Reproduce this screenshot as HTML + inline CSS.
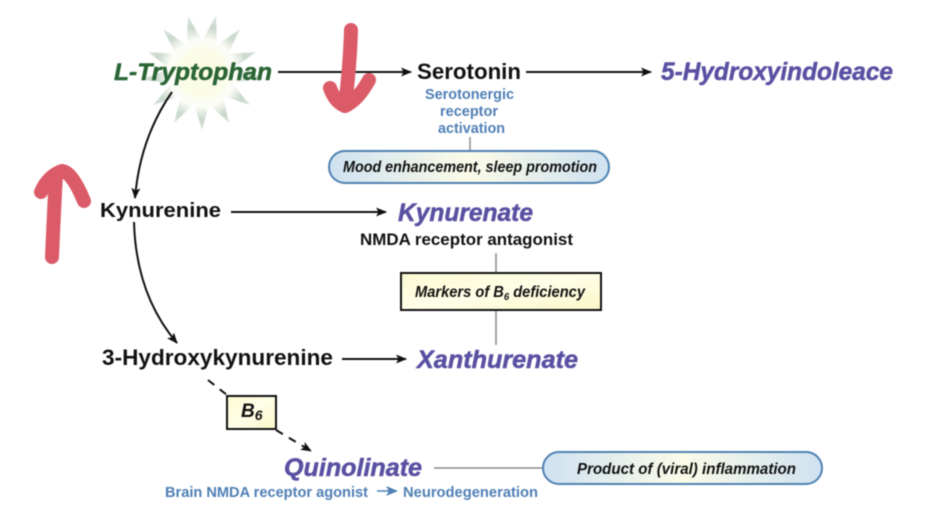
<!DOCTYPE html>
<html><head><meta charset="utf-8"><style>
html,body{margin:0;padding:0;background:#fff}
svg{display:block;filter:blur(.5px)}
text{font-family:"Liberation Sans",sans-serif}
.b{font-weight:bold}
.i{font-style:italic;font-weight:bold}
.p{fill:#5a50a2;stroke:#5a50a2;stroke-width:.5px;font-weight:bold;font-style:italic;font-size:25px}
.t{fill:#4f7fb5;font-weight:bold;font-size:15px}
.n{fill:#111;font-style:italic;font-weight:bold;font-size:15.5px}
</style></head><body>
<svg width="936" height="518" viewBox="0 0 936 518" xmlns="http://www.w3.org/2000/svg">
<defs>
<marker id="a" markerWidth="12" markerHeight="10" refX="10" refY="5" orient="auto" markerUnits="userSpaceOnUse"><path d="M0,0.5L11,5L0,9.5L2.5,5Z" fill="#111"/></marker>
<radialGradient id="s" gradientUnits="userSpaceOnUse" cx="202" cy="73" r="62"><stop offset=".55" stop-color="#fbfcf6"/><stop offset=".75" stop-color="#c9d8cc"/><stop offset="1" stop-color="#dfe8e1"/></radialGradient>
<radialGradient id="c"><stop offset="0" stop-color="#fcfde0"/><stop offset=".7" stop-color="#fbfce8"/><stop offset="1" stop-color="#fdfef8" stop-opacity="0"/></radialGradient>
<linearGradient id="pill"><stop offset="0" stop-color="#cfe2f1"/><stop offset=".5" stop-color="#fbfbe8"/><stop offset="1" stop-color="#cfe2f1"/></linearGradient>
<linearGradient id="box" x1="0" y1="0" x2="1" y2="1"><stop offset="0" stop-color="#fdfbd2"/><stop offset=".5" stop-color="#fffee8"/><stop offset="1" stop-color="#fbf7c8"/></linearGradient>
</defs>
<rect width="936" height="518" fill="#fff"/>

<polygon fill="url(#s)" points="188,16 202,41 216,16 217,45 240,29 228,54 256,52 234,68 264,78 232,83 250,105 223,96 229,123 209,104 202,130 194,104 174,123 181,96 153,105 172,83 140,80 170,69 148,52 176,54 163,29 187,45"/>
<circle cx="202" cy="73" r="34" fill="url(#c)"/>

<g fill="none" stroke="#111" stroke-width="2">
<path d="M278,72H411" marker-end="url(#a)"/>
<path d="M526,72H651" marker-end="url(#a)"/>
<path d="M231,212H386" marker-end="url(#a)"/>
<path d="M342,359H406" marker-end="url(#a)"/>
<path d="M172,92Q140,138 135,198" marker-end="url(#a)"/>
<path d="M134,222Q136,295 177,343" marker-end="url(#a)"/>
<path d="M208,380L227,395" stroke-dasharray="8 7"/>
<path d="M276,430L311,451" stroke-dasharray="8 7" marker-end="url(#a)"/>
</g>
<g fill="none" stroke="#8a8a8a" stroke-width="1.5">
<path d="M470,137V151"/>
<path d="M496,253V273"/>
<path d="M496,310V345"/>
<path d="M434,468H543"/>
</g>

<rect x="329" y="151" width="280" height="32" rx="16" fill="url(#pill)" stroke="#4f81b0" stroke-width="2"/>
<rect x="543" y="452" width="279" height="32" rx="16" fill="url(#pill)" stroke="#4f81b0" stroke-width="2"/>
<rect x="401" y="273" width="200" height="37" fill="url(#box)" stroke="#111" stroke-width="2"/>
<rect x="227" y="396" width="49" height="33" fill="url(#box)" stroke="#111" stroke-width="2"/>

<text x="114" y="80" class="i" font-size="24" fill="#2a6535" stroke="#2a6535" stroke-width=".5" textLength="158" lengthAdjust="spacingAndGlyphs">L-Tryptophan</text>
<text x="417" y="79" class="b" font-size="22" fill="#111" textLength="104" lengthAdjust="spacingAndGlyphs">Serotonin</text>
<text x="661" y="80" class="p" textLength="232" lengthAdjust="spacingAndGlyphs">5-Hydroxyindoleace</text>
<text x="425" y="99" class="t" textLength="89" lengthAdjust="spacingAndGlyphs">Serotonergic</text>
<text x="440" y="116" class="t" textLength="58" lengthAdjust="spacingAndGlyphs">receptor</text>
<text x="438" y="133" class="t" textLength="67" lengthAdjust="spacingAndGlyphs">activation</text>
<text x="343" y="172" class="n" textLength="254" lengthAdjust="spacingAndGlyphs">Mood enhancement, sleep promotion</text>
<text x="100" y="217" class="b" font-size="20" fill="#111" textLength="121" lengthAdjust="spacingAndGlyphs">Kynurenine</text>
<text x="398" y="221" class="p" textLength="135" lengthAdjust="spacingAndGlyphs">Kynurenate</text>
<text x="360" y="245" class="b" font-size="16.5" fill="#111" textLength="213" lengthAdjust="spacingAndGlyphs">NMDA receptor antagonist</text>
<text x="415" y="297" class="n" textLength="170" lengthAdjust="spacingAndGlyphs">Markers of B<tspan font-size="10" dy="3">6</tspan><tspan dy="-3"> deficiency</tspan></text>
<text x="102" y="365" class="b" font-size="22" fill="#111" textLength="231" lengthAdjust="spacingAndGlyphs">3-Hydroxykynurenine</text>
<text x="417" y="368" class="p" textLength="161" lengthAdjust="spacingAndGlyphs">Xanthurenate</text>
<text x="241" y="417" class="i" font-size="19" fill="#111">B<tspan font-size="14" dy="3">6</tspan></text>
<text x="284" y="476" class="p" textLength="138" lengthAdjust="spacingAndGlyphs">Quinolinate</text>
<text x="577" y="474" class="n" textLength="219" lengthAdjust="spacingAndGlyphs">Product of (viral) inflammation</text>
<text x="165" y="497" class="t" textLength="203" lengthAdjust="spacingAndGlyphs">Brain NMDA receptor agonist</text>
<path d="M377,491H390" stroke="#4f7fb5" stroke-width="1.5"/>
<path d="M386,486L398,491L386,496L389,491Z" fill="#4f7fb5"/>
<text x="403" y="497" class="t" textLength="135" lengthAdjust="spacingAndGlyphs">Neurodegeneration</text>

<g fill="none" stroke="#db5b68" stroke-width="14" stroke-linecap="round" stroke-linejoin="round">
<path d="M351,30Q350,65 345,106"/>
<path d="M330,88Q335,102 345,106Q358,100 369,80"/>
<path d="M52,257Q54,210 56,175"/>
<path d="M41,192Q48,176 62,171Q72,172 84,201"/>
</g>
</svg>
</body></html>
